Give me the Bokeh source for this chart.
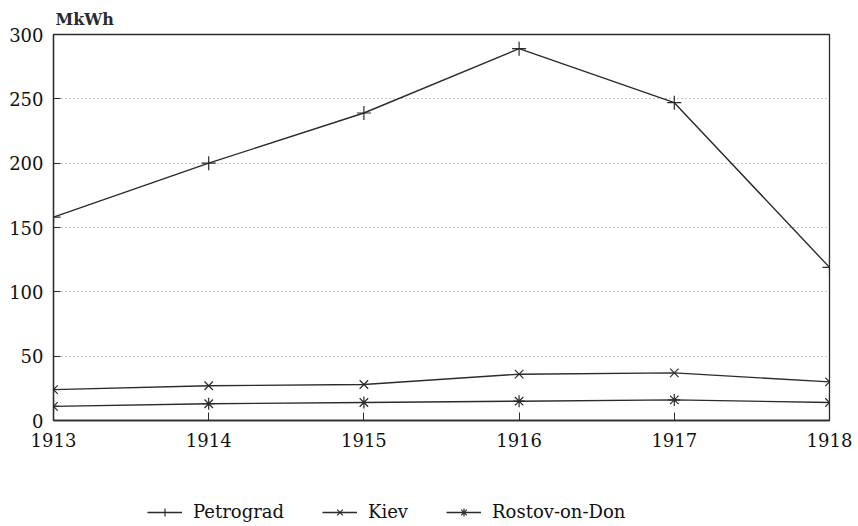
from bokeh.plotting import figure
from bokeh.models import Legend, LegendItem, FixedTicker, Range1d
from bokeh.layouts import column
from bokeh.embed import file_html
from bokeh.resources import INLINE

years = [1913, 1914, 1915, 1916, 1917, 1918]
petrograd = [158, 200, 239, 289, 247, 119]
kiev = [24, 27, 28, 36, 37, 30]
rostov = [11, 13, 14, 15, 16, 14]
y_ticks = [0, 50, 100, 150, 200, 250, 300]
unit_label = "MkWh"

FONT = "DejaVu Serif"
INK = "#2b2b2b"

series = [("Petrograd", petrograd, "cross", 14),
          ("Kiev", kiev, "x", 12),
          ("Rostov-on-Don", rostov, "asterisk", 12)]

main = figure(width=852, height=470, output_backend="svg", toolbar_location=None,
              x_range=Range1d(1913, 1918), y_range=Range1d(0, 300),
              min_border_left=53, min_border_right=23, min_border_top=34,
              min_border_bottom=50, title=unit_label)

main.title.text_font = FONT
main.title.text_font_size = "16px"
main.title.text_font_style = "bold"
main.title.text_color = INK
main.title.align = "left"
main.title.standoff = 11
main.title.offset = 2

main.outline_line_color = INK
main.outline_line_width = 1.3
main.outline_line_alpha = 1.0

main.xgrid.visible = False
main.ygrid.ticker = FixedTicker(ticks=y_ticks)
main.ygrid.grid_line_color = "#8a8a8a"
main.ygrid.grid_line_dash = "1 3"
main.ygrid.grid_line_width = 1

main.xaxis.ticker = FixedTicker(ticks=years)
main.yaxis.ticker = FixedTicker(ticks=y_ticks)
for ax in (main.xaxis[0], main.yaxis[0]):
    ax.axis_line_color = INK
    ax.axis_line_width = 1.3
    ax.major_tick_line_color = INK
    ax.major_tick_out = 0
    ax.minor_tick_line_color = None
    ax.major_label_text_font = FONT
    ax.major_label_text_font_size = "18px"
    ax.major_label_text_color = "#111111"
main.xaxis.major_tick_in = 8
main.yaxis.major_tick_in = 7
main.xaxis.major_label_standoff = 12
main.yaxis.major_label_standoff = 10

for name, vals, marker, size in series:
    main.line(years, vals, line_color=INK, line_width=1.4)
    main.scatter(years, vals, marker=marker, size=size, line_color=INK,
                 line_width=1.2, fill_color=None)

# legend strip below the chart (its data lies outside its view, only the legend shows)
leg = figure(width=852, height=54, output_backend="svg", toolbar_location=None,
             x_range=Range1d(0, 1), y_range=Range1d(0, 1),
             min_border_left=0, min_border_right=0, min_border_top=0,
             min_border_bottom=0, x_axis_type=None, y_axis_type=None)
leg.outline_line_color = None
leg.xgrid.visible = False
leg.ygrid.visible = False

items = []
for name, vals, marker, size in series:
    ln = leg.line(years, vals, line_color=INK, line_width=1.4)
    sc = leg.scatter(years, vals, marker=marker, size=size, line_color=INK,
                     line_width=1.2, fill_color=None)
    items.append(LegendItem(label=name, renderers=[ln, sc]))

legend = Legend(items=items, orientation="horizontal", location=(94, 2),
                border_line_color=None, background_fill_alpha=0,
                padding=0, margin=0, spacing=38, label_standoff=11,
                glyph_width=35, glyph_height=20, label_width=0,
                label_text_font=FONT, label_text_font_size="18px",
                label_text_color="#111111")
leg.add_layout(legend, "center")

p = column(main, leg, spacing=0)

open("out.html", "w").write(file_html(p, INLINE))
